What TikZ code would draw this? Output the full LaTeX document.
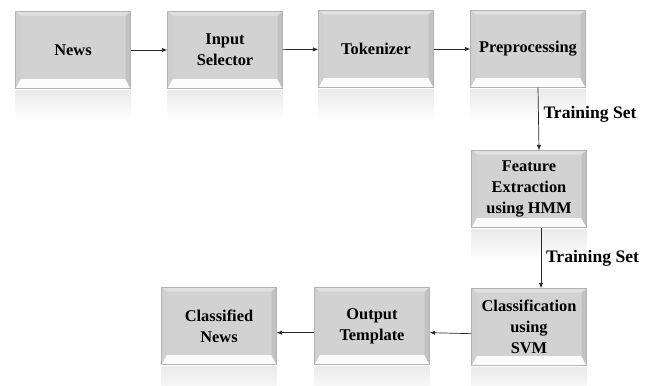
\documentclass[tikz,border=0pt]{standalone}
\usepackage{fontspec}
\setmainfont{Liberation Serif}
\usepackage{xcolor}
\usepackage{tikz}
\usetikzlibrary{arrows.meta,positioning}

\begin{document}
\begin{tikzpicture}[x=0.3mm, y=-0.3mm,
  line/.style={-{Latex[length=1.6mm,width=1.3mm]}, draw=black!85, line width=0.6pt},
  label/.style={black, node font=\bfseries\fontsize{15}{18}\selectfont, inner sep=2pt},
  stage/.style={draw=gray!60, fill=gray!35, minimum width=34.5mm, minimum height=23.1mm, inner sep=2pt, align=center,
    path picture={
      \fill[gray!24] (path picture bounding box.north west) -- (path picture bounding box.north east) -- ++(-1.5mm,-1.2mm) -- ([shift={(1.5mm,-1.2mm)}]path picture bounding box.north west) -- cycle;
      \fill[gray!3] (path picture bounding box.south west) -- (path picture bounding box.south east) -- ++(-1.5mm,2.8mm) -- ([shift={(1.5mm,2.8mm)}]path picture bounding box.south west) -- cycle;
      \fill[gray!38] (path picture bounding box.north west) -- ([shift={(1.5mm,-1.2mm)}]path picture bounding box.north west) -- ([shift={(1.5mm,2.8mm)}]path picture bounding box.south west) -- (path picture bounding box.south west) -- cycle;
      \fill[gray!48] (path picture bounding box.north east) -- ([shift={(-1.5mm,-1.2mm)}]path picture bounding box.north east) -- ([shift={(-1.5mm,2.8mm)}]path picture bounding box.south east) -- (path picture bounding box.south east) -- cycle;
    }},
  node font=\bfseries\fontsize{14}{18}\selectfont]

  \useasboundingbox (0,0) rectangle (655,385);

  \node[stage] (stageNews)       at (73,50)    {News};
  \node[stage] (stageInput)      at (225,50)   {Input\\Selector};
  \node[stage] (stageTokenizer)  at (376,49)   {Tokenizer};
  \node[stage] (stagePreprocess) at (528,49)   {Preprocessing};
  \node[stage] (stageFeature)    at (529,189)  {Feature\\Extraction\\using HMM};
  \node[stage] (stageClassify)   at (529,327)  {Classification\\using\\SVM};
  \node[stage] (stageOutput)     at (372,326)  {Output\\Template};
  \node[stage] (stageClassified) at (219,326)  {Classified\\News};

  % reflections under the boxes
  \foreach \n in {stageNews,stageInput,stageTokenizer,stagePreprocess,stageFeature,stageClassify,stageOutput,stageClassified}
    \shade[top color=gray!16, bottom color=white] ([yshift=-0.6mm]\n.south west) rectangle ([yshift=-10mm]\n.south east);

  \draw [line] (stageNews)       -- (stageInput);
  \draw [line] (stageInput)      -- (stageTokenizer);
  \draw [line] (stageTokenizer)  -- (stagePreprocess);
  \draw [line] ([xshift=3mm]stagePreprocess.south) -- node[label,right=2pt,yshift=1.5mm] {Training Set} ([xshift=3mm]stageFeature.north);
  \draw [line] ([xshift=3.6mm]stageFeature.south)  -- node[label,right=2pt] {Training Set} ([xshift=3.6mm]stageClassify.north);
  \draw [line] ([yshift=-2mm]stageClassify.west)   -- ([yshift=-2mm]stageOutput.east);
  \draw [line] ([yshift=-2mm]stageOutput.west)     -- ([yshift=-2mm]stageClassified.east);
\end{tikzpicture}
\end{document}
